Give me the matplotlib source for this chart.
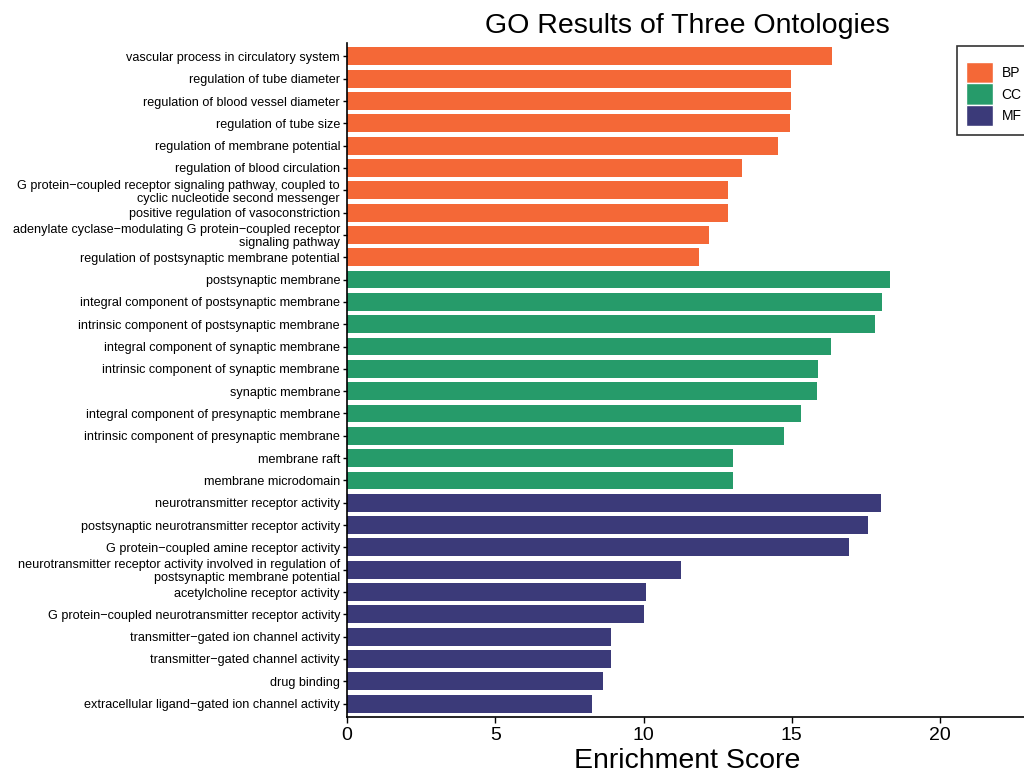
import matplotlib.pyplot as plt
from matplotlib.patches import Patch

plt.rcParams["font.family"] = ["Liberation Sans", "DejaVu Sans"]

bp_terms = [
    "vascular process in circulatory system",
    "regulation of tube diameter",
    "regulation of blood vessel diameter",
    "regulation of tube size",
    "regulation of membrane potential",
    "regulation of blood circulation",
    "G protein\u2212coupled receptor signaling pathway, coupled to\ncyclic nucleotide second messenger",
    "positive regulation of vasoconstriction",
    "adenylate cyclase\u2212modulating G protein\u2212coupled receptor\nsignaling pathway",
    "regulation of postsynaptic membrane potential",
]
bp_scores = [16.36, 14.97, 14.97, 14.94, 14.54, 13.32, 12.85, 12.85, 12.21, 11.87]

cc_terms = [
    "postsynaptic membrane",
    "integral component of postsynaptic membrane",
    "intrinsic component of postsynaptic membrane",
    "integral component of synaptic membrane",
    "intrinsic component of synaptic membrane",
    "synaptic membrane",
    "integral component of presynaptic membrane",
    "intrinsic component of presynaptic membrane",
    "membrane raft",
    "membrane microdomain",
]
cc_scores = [18.31, 18.04, 17.81, 16.32, 15.89, 15.85, 15.31, 14.74, 13.02, 13.02]

mf_terms = [
    "neurotransmitter receptor activity",
    "postsynaptic neurotransmitter receptor activity",
    "G protein\u2212coupled amine receptor activity",
    "neurotransmitter receptor activity involved in regulation of\npostsynaptic membrane potential",
    "acetylcholine receptor activity",
    "G protein\u2212coupled neurotransmitter receptor activity",
    "transmitter\u2212gated ion channel activity",
    "transmitter\u2212gated channel activity",
    "drug binding",
    "extracellular ligand\u2212gated ion channel activity",
]
mf_scores = [18.01, 17.57, 16.93, 11.26, 10.08, 10.02, 8.90, 8.90, 8.63, 8.26]

groups = ["BP", "CC", "MF"]
colors = {"BP": "#F46837", "CC": "#269B6A", "MF": "#3B3A79"}

terms = bp_terms + cc_terms + mf_terms
scores = bp_scores + cc_scores + mf_scores
kinds = ["BP"] * len(bp_terms) + ["CC"] * len(cc_terms) + ["MF"] * len(mf_terms)

fig = plt.figure(figsize=(10.24, 7.74), dpi=100)
ax = fig.add_axes([347 / 1024, 1 - 717 / 774, (1027 - 347) / 1024, (717 - 43) / 774])

ypos = list(range(len(terms)))
ax.barh(ypos, scores, height=0.8, color=[colors[k] for k in kinds])

ax.set_ylim(len(terms) - 0.4, -0.6)
ax.set_xlim(0, 22.93)
ax.set_yticks(ypos)
ax.set_yticklabels(terms, fontsize=9.1, linespacing=1.1)
ax.set_xticks([0, 5, 10, 15, 20])
ax.tick_params(axis="x", labelsize=14, length=4, width=1, pad=3)
ax.tick_params(axis="y", length=3, width=1, pad=2)

for side in ["top", "right"]:
    ax.spines[side].set_visible(False)
for side in ["left", "bottom"]:
    ax.spines[side].set_linewidth(1.2)

ax.set_xlabel("Enrichment Score", fontsize=20.5, labelpad=3)
ax.set_title("GO Results of Three Ontologies", fontsize=20.5, pad=7)

handles = [Patch(facecolor=colors[g], edgecolor="white", label=g) for g in groups]
leg = fig.legend(handles=handles, loc="upper left", bbox_to_anchor=(957 / 1024, 1 - 46 / 774),
                 frameon=True, fancybox=False, fontsize=10, handlelength=1.95, handleheight=2.0,
                 handletextpad=0.6, labelspacing=0.0, borderpad=0.65, borderaxespad=0,
                 title=" ", title_fontsize=6)
leg.get_frame().set_edgecolor("black")
leg.get_frame().set_linewidth(1.2)

fig.savefig("out.png", dpi=100)
